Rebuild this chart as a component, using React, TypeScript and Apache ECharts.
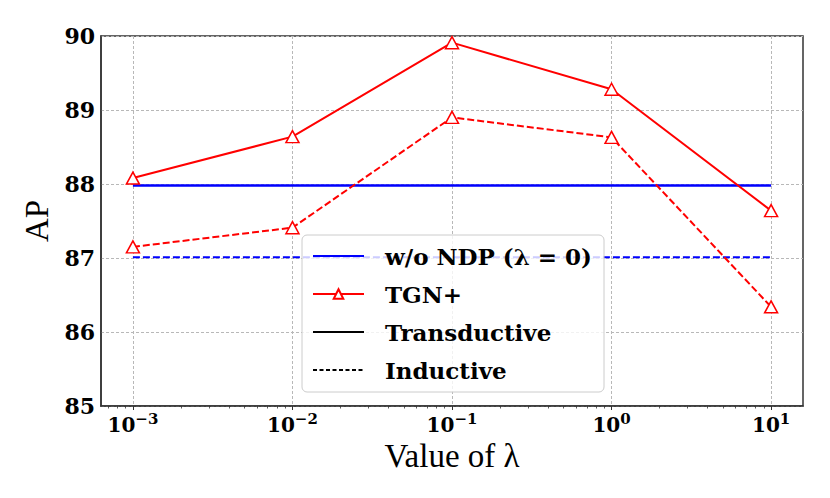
import React, { useEffect, useRef } from "react";
import * as echarts from "echarts";

const lambdas = [0.001, 0.01, 0.1, 1, 10];
const tgnTransductive = [88.08, 88.64, 89.91, 89.28, 87.64];
const tgnInductive = [87.15, 87.41, 88.9, 88.63, 86.34];
const baseTransductive = [87.98, 87.98, 87.98, 87.98, 87.98];
const baseInductive = [87.01, 87.01, 87.01, 87.01, 87.01];
const majorTicks = [0.001, 0.01, 0.1, 1, 10];
const minorTicks = [
  0.0007, 0.0008, 0.0009,
  0.002, 0.003, 0.004, 0.005, 0.006, 0.007, 0.008, 0.009,
  0.02, 0.03, 0.04, 0.05, 0.06, 0.07, 0.08, 0.09,
  0.2, 0.3, 0.4, 0.5, 0.6, 0.7, 0.8, 0.9,
  2, 3, 4, 5, 6, 7, 8, 9,
];
const legendNames = ["w/o NDP (λ = 0)", "TGN+", "Transductive", "Inductive"];

const X_MIN = Math.pow(10, -3.2);
const X_MAX = Math.pow(10, 1.2);

const pair = (ys: number[]) => lambdas.map((l, i) => [l, ys[i]]);

export default function App() {
  const ref = useRef<HTMLDivElement>(null);
  useEffect(() => {
    if (!ref.current) return;
    const chart = echarts.init(ref.current, null, { renderer: "svg" });
    const red = "#ff0000";
    const blue = "#0000ff";
    const tri = {
      symbol: "triangle",
      symbolSize: [13, 12],
      itemStyle: { color: "#ffffff", borderColor: red, borderWidth: 1.5 },
    };
    chart.setOption({
      animation: false,
      grid: {
        left: 101,
        right: 27,
        top: 36,
        bottom: 92,
        show: true,
        borderColor: "#333333",
        borderWidth: 1.5,
        backgroundColor: "transparent",
      },
      xAxis: [
        {
          type: "log",
          logBase: 10,
          min: X_MIN,
          max: X_MAX,
          name: "Value of λ",
          nameLocation: "middle",
          nameGap: 28,
          nameTextStyle: { fontFamily: "Liberation Serif", fontSize: 33, color: "#000" },
          axisLine: { show: true, lineStyle: { color: "#333333", width: 1.5 } },
          axisTick: {
            show: true,
            length: 4,
            inside: false,
            customValues: majorTicks,
            lineStyle: { color: "#333333", width: 1 },
          },
          axisLabel: {
            customValues: majorTicks,
            margin: 5,
            formatter: (v: number) => {
              const e = Math.round(Math.log10(v));
              const s = e < 0 ? "−" + -e : String(e);
              return "{b|10}{s|" + s + "}";
            },
            rich: {
              b: {
                fontFamily: "DejaVu Serif",
                fontWeight: "bold",
                fontSize: 20,
                color: "#000",
                lineHeight: 24,
                verticalAlign: "bottom",
              },
              s: {
                fontFamily: "DejaVu Serif",
                fontWeight: "bold",
                fontSize: 15,
                color: "#000",
                lineHeight: 15,
                verticalAlign: "top",
              },
            },
          },
          splitLine: {
            show: true,
            lineStyle: { color: "#b8b8b8", type: [3, 2], width: 1 },
          },
        },
        {
          type: "log",
          logBase: 10,
          min: X_MIN,
          max: X_MAX,
          position: "bottom",
          axisLine: { show: false },
          axisLabel: { show: false },
          splitLine: { show: false },
          axisTick: {
            show: true,
            length: 2.5,
            inside: false,
            customValues: minorTicks,
            lineStyle: { color: "#333333", width: 0.8 },
          },
        },
      ],
      yAxis: {
        type: "value",
        min: 85,
        max: 90,
        interval: 1,
        name: "AP",
        nameLocation: "middle",
        nameGap: 44,
        nameTextStyle: { fontFamily: "Liberation Serif", fontSize: 33, color: "#000" },
        axisLine: { show: true, lineStyle: { color: "#333333", width: 1.5 } },
        axisTick: { show: false },
        axisLabel: {
          margin: 6,
          fontFamily: "DejaVu Serif",
          fontWeight: "bold",
          fontSize: 22,
          color: "#000",
        },
        splitLine: {
          show: true,
          lineStyle: { color: "#b8b8b8", type: [3, 2], width: 1 },
        },
      },
      legend: {
        data: [
          { name: legendNames[0], itemStyle: { opacity: 0 } },
          { name: legendNames[1] },
          { name: legendNames[2], itemStyle: { opacity: 0 } },
          { name: legendNames[3], itemStyle: { opacity: 0 } },
        ],
        orient: "vertical",
        left: 302,
        top: 235,
        itemWidth: 51,
        itemHeight: 12,
        itemGap: 14,
        padding: [9, 12, 10, 10],
        backgroundColor: "rgba(255,255,255,0.8)",
        borderColor: "#cccccc",
        borderWidth: 1,
        borderRadius: 5,
        textStyle: {
          fontFamily: "DejaVu Serif",
          fontWeight: "bold",
          fontSize: 23,
          color: "#000",
          lineHeight: 24,
          padding: [0, 0, 0, 16],
        },
      },
      series: [
        {
          name: legendNames[0],
          type: "line",
          data: pair(baseTransductive),
          symbol: "none",
          lineStyle: { color: blue, width: 2.4, type: "solid" },
          itemStyle: { color: blue },
          z: 2,
        },
        {
          name: legendNames[0],
          type: "line",
          data: pair(baseInductive),
          symbol: "none",
          lineStyle: { color: blue, width: 2.2, type: [7, 3] },
          itemStyle: { color: blue },
          z: 2,
        },
        {
          name: legendNames[1],
          type: "line",
          data: pair(tgnTransductive),
          ...tri,
          showAllSymbol: true,
          lineStyle: { color: red, width: 2, type: "solid" },
          z: 3,
        },
        {
          name: legendNames[1],
          type: "line",
          data: pair(tgnInductive),
          ...tri,
          showAllSymbol: true,
          lineStyle: { color: red, width: 2, type: [7, 3] },
          z: 3,
        },
        {
          name: legendNames[2],
          type: "line",
          data: [],
          symbol: "none",
          lineStyle: { color: "#000", width: 1.8, type: "solid" },
          itemStyle: { color: "#000" },
        },
        {
          name: legendNames[3],
          type: "line",
          data: [],
          symbol: "none",
          lineStyle: { color: "#000", width: 1.3, type: [4, 2.5] },
          itemStyle: { color: "#000" },
        },
      ],
    });
    return () => chart.dispose();
  }, []);
  return (
    <div
      ref={ref}
      style={{ position: "fixed", left: 0, top: 0, width: 830, height: 498, background: "#fff" }}
    />
  );
}
